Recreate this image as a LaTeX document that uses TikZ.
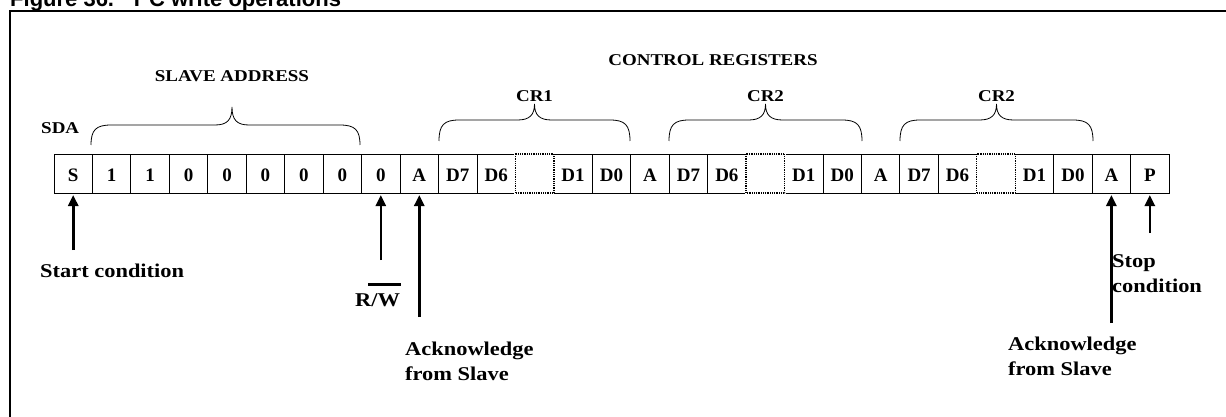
\documentclass[tikz,border=0pt]{standalone}
\usepackage{fontspec}
\setmainfont{Liberation Serif}
\newfontfamily\wideserif{Liberation Serif}[FakeStretch=1.15]
\newfontfamily\titlesans{Liberation Sans}
\usetikzlibrary{arrows.meta}
\newcommand\curlybrace[6]{% left x, right x, peak x, tip y, line y, peak y
  \draw[bracestyle] (#1,#4) .. controls (#1,#5+5) and (#1+5,#5) .. (#1+20,#5)
    -- (#3-17,#5) .. controls (#3-5,#5) and (#3,#5-5) .. (#3,#6)
    .. controls (#3,#5-5) and (#3+5,#5) .. (#3+17,#5)
    -- (#2-20,#5) .. controls (#2-5,#5) and (#2,#5+5) .. (#2,#4);}
\begin{document}
\begin{tikzpicture}[x=1pt,y=-1pt,
  cell/.style={draw, line width=0.9pt, minimum width=38.45pt, minimum height=39pt,
    inner sep=0pt, outer sep=0pt, anchor=north west, text height=17pt, text depth=0pt,
    font=\bfseries\fontsize{19}{22}\selectfont},
  dottedcell/.style={line width=1.3pt, dash pattern=on 1pt off 0.8pt},
  bracestyle/.style={line width=0.8pt},
  hdr/.style={inner sep=0pt, font=\wideserif\bfseries\fontsize{16.5}{20}\selectfont},
  lab/.style={inner sep=0pt, font=\wideserif\bfseries\fontsize{19.5}{25}\selectfont},
  uparrow/.style={line width=2.6pt, -{Triangle[length=11pt,width=10pt]}},
  frame/.style={line width=2pt}]
\useasboundingbox (0,0) rectangle (1226,417);
\clip (0,0) rectangle (1226,417);
\fill[white] (0,0) rectangle (1226,417);
% title (cut off at the top)
\node[anchor=base west, inner sep=0pt, font=\titlesans\bfseries\fontsize{22}{26}\selectfont] (title) at (10,7)
  {Figure 36.\hspace{0.9em}I\textsuperscript{2}C write operations};
% frame
\draw[frame] (10,440) -- (10,11) -- (1250,11);
% cells
\foreach \lab [count=\i from 0] in {S,1,1,0,0,0,0,0,0,A,D7,D6,{},D1,D0,A,D7,D6,{},D1,D0,A,D7,D6,{},D1,D0,A,P}
  \node[cell] (c\i) at ({54+38.45*\i},154) {\lab};
\foreach \i in {12,18,24} {
  \draw[white, line width=2.4pt] (c\i.north west) rectangle (c\i.south east);
  \draw[dottedcell] (c\i.north west) rectangle (c\i.south east);
}
% headers
\node[hdr, anchor=base west] (lsda) at (41,134) {SDA};
\node[hdr, anchor=base] (lslave) at (232,82) {SLAVE ADDRESS};
\node[hdr, anchor=base] (lctrl) at (713,66) {CONTROL REGISTERS};
\node[hdr, anchor=base] (lcr1) at (534.5,101.5) {CR1};
\node[hdr, anchor=base] (lcr2a) at (765.5,101.5) {CR2};
\node[hdr, anchor=base] (lcr2b) at (996.5,101.5) {CR2};
% braces
\curlybrace{91}{360}{232}{145}{125}{107}
\curlybrace{439}{630}{534.5}{141}{120}{104}
\curlybrace{669}{862}{765.5}{141}{120}{104}
\curlybrace{900}{1093}{996.5}{141}{120}{104}
% bottom labels
\node[lab, anchor=base west] (lstart) at (40,277) {Start condition};
\node[lab, anchor=base west] (lrw) at (355,306) {R\rlap{\hspace{-3pt}\rule[20.5pt]{33pt}{2.5pt}}/W};
\node[lab, anchor=north west, align=left] (lack1) at (405,342) {Acknowledge\\from Slave};
\node[lab, anchor=north west, align=left] (lack2) at (1008,336.5) {Acknowledge\\from Slave};
\node[lab, anchor=north west, align=left] (lstop) at (1112,254.5) {Stop\\condition};
% arrows
\coordinate (tS) at (c0.south |- 0,250);
\coordinate (tRW) at (c8.south |- 0,260);
\coordinate (tA1) at (c9.south |- 0,317);
\coordinate (tA2) at (c27.south |- 0,323);
\coordinate (tP) at (c28.south |- 0,233);
\draw[uparrow] (tS) -- ([yshift=-2pt]c0.south);
\draw[uparrow] (tRW) -- ([yshift=-2pt]c8.south);
\draw[uparrow] (tA1) -- ([yshift=-2pt]c9.south);
\draw[uparrow] (tA2) -- ([yshift=-2pt]c27.south);
\draw[uparrow] (tP) -- ([yshift=-2pt]c28.south);
\end{tikzpicture}
\end{document}
